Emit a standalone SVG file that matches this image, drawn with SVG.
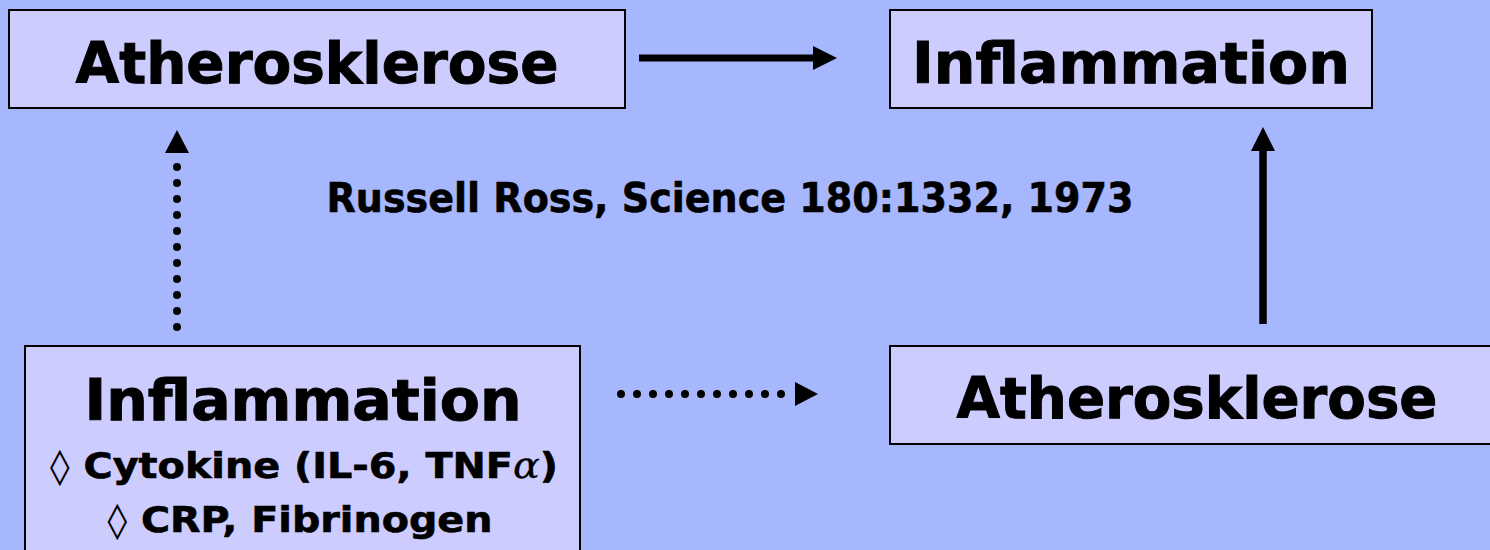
<svg xmlns="http://www.w3.org/2000/svg" width="1490" height="550" viewBox="0 0 1490 550">
<style>
.box{fill:#ccccfe;stroke:#000;stroke-width:2}
.t{font-family:"DejaVu Sans",Verdana,sans-serif;font-weight:bold;fill:#000;text-anchor:middle}
.big{font-size:57px;stroke:#000;stroke-width:1}
.mid{font-size:35px;stroke:#000;stroke-width:0.6}
.ref{font-size:40px;stroke:#000;stroke-width:0.6}
.head{fill:#000}
.solid{stroke:#000;fill:none}
.dots{stroke:#000;fill:none;stroke-width:8;stroke-linecap:round;stroke-dasharray:0 16}
</style>
<rect width="1490" height="550" fill="#a6b7fe"/>
<g id="n1"><rect class="box" x="9" y="10" width="616" height="98"/>
<text class="t big" x="317" y="83" textLength="483" lengthAdjust="spacingAndGlyphs">Atherosklerose</text></g>
<g id="n2"><rect class="box" x="890" y="10" width="482" height="98"/>
<text class="t big" x="1131" y="83" textLength="438" lengthAdjust="spacingAndGlyphs">Inflammation</text></g>
<g id="n3"><rect class="box" x="25" y="346" width="555" height="215"/>
<text class="t big" x="303" y="420" textLength="437" lengthAdjust="spacingAndGlyphs">Inflammation</text>
<text class="t mid" x="304" y="478" textLength="508" lengthAdjust="spacingAndGlyphs"><tspan font-weight="normal" stroke-width="0">◊</tspan> Cytokine (IL-6, TNF<tspan font-family="DejaVu Serif,serif" font-weight="normal" font-style="italic" stroke-width="0.3">α</tspan>)</text>
<text class="t mid" x="300" y="532" textLength="385" lengthAdjust="spacingAndGlyphs"><tspan font-weight="normal" stroke-width="0">◊</tspan> CRP, Fibrinogen</text></g>
<g id="n4"><rect class="box" x="890" y="346" width="610" height="98"/>
<text class="t big" x="1197" y="418" textLength="481" lengthAdjust="spacingAndGlyphs">Atherosklerose</text></g>
<g id="label"><text class="t ref" x="730" y="212" textLength="807" lengthAdjust="spacingAndGlyphs">Russell Ross, Science 180:1332, 1973</text></g>
<g id="connectors">
<line class="solid" x1="639" y1="58" x2="814" y2="58" stroke-width="7"/>
<path class="head" d="M813,46 L837,58 L813,70 Z"/>
<line class="solid" x1="1263" y1="324" x2="1263" y2="148" stroke-width="7.5"/>
<path class="head" d="M1251,151 L1263,127 L1275,151 Z"/>
<line class="dots" x1="177" y1="327" x2="177" y2="163"/>
<path class="head" d="M165,153 L177,130 L189,153 Z"/>
<line class="dots" x1="621" y1="394" x2="797" y2="394"/>
<path class="head" d="M795,382 L818,394 L795,406 Z"/>
</g>
</svg>
